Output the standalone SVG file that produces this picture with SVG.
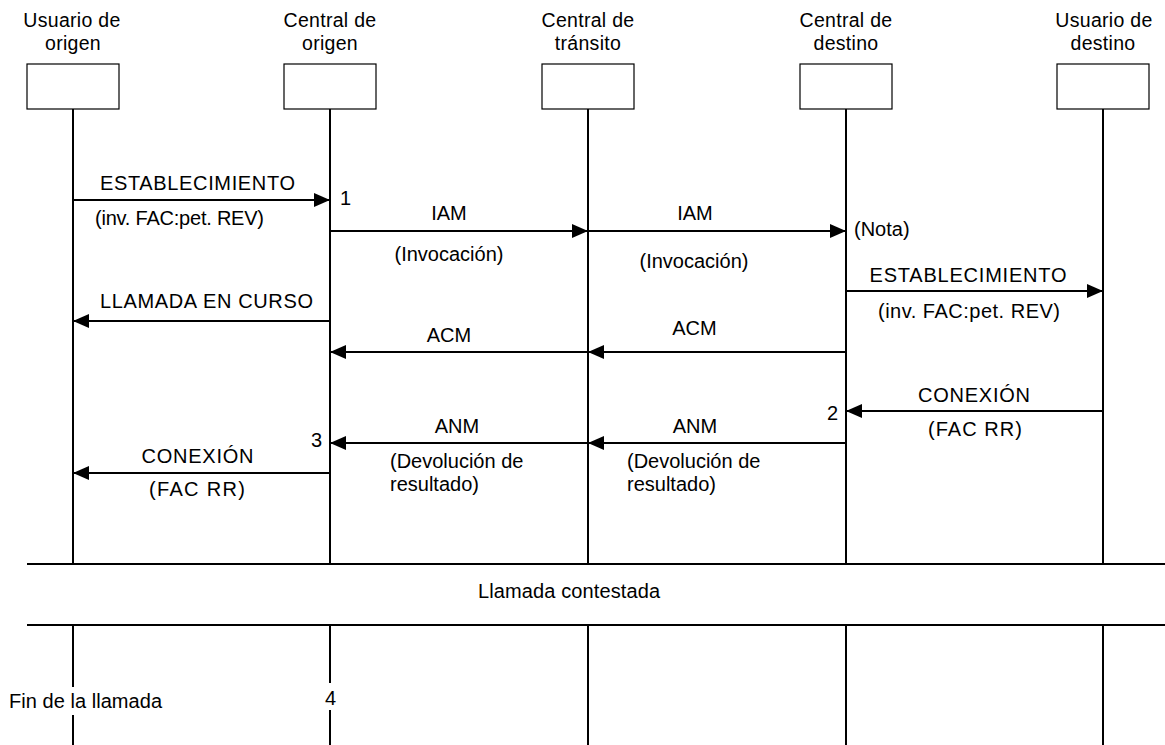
<svg xmlns="http://www.w3.org/2000/svg" width="1165" height="745" viewBox="0 0 1165 745">
<style>
text{font-family:"Liberation Sans",Arial,sans-serif;font-size:20px;fill:#000}
.m{text-anchor:middle}
.h{font-size:19.5px;letter-spacing:0.3px}
.box{fill:#fff;stroke:#000;stroke-width:1.2}
.life{stroke:#000;stroke-width:2;fill:none}
.sep{stroke:#000;stroke-width:2.2;fill:none}
.msg{stroke:#000;stroke-width:2;fill:none;marker-end:url(#ah)}
</style>
<defs>
<marker id="ah" markerUnits="userSpaceOnUse" markerWidth="16" markerHeight="14" refX="16" refY="7" orient="auto">
<path d="M0,0 L16,7 L0,14 z" fill="#000"/>
</marker>
</defs>
<rect width="1165" height="745" fill="#fff"/>

<g id="usuario-origen">
<text class="m h" x="72" y="27">Usuario de</text>
<text class="m h" x="73" y="49.5">origen</text>
<rect class="box" x="27" y="64" width="92" height="45"/>
<path class="life" d="M73,109 V564 M73,625 V687 M73,715 V745"/>
</g>
<g id="central-origen">
<text class="m h" x="330" y="27">Central de</text>
<text class="m h" x="330" y="49.5">origen</text>
<rect class="box" x="284" y="64" width="92" height="45"/>
<path class="life" d="M330,109 V564 M330,625 V683 M330,710 V745"/>
</g>
<g id="central-transito">
<text class="m h" x="588" y="27">Central de</text>
<text class="m h" x="588" y="49.5">tránsito</text>
<rect class="box" x="542" y="64" width="92" height="45"/>
<path class="life" d="M588,109 V564 M588,625 V745"/>
</g>
<g id="central-destino">
<text class="m h" x="846" y="27">Central de</text>
<text class="m h" x="846" y="49.5">destino</text>
<rect class="box" x="800" y="64" width="92" height="45"/>
<path class="life" d="M846,109 V564 M846,625 V745"/>
</g>
<g id="usuario-destino">
<text class="m h" x="1104" y="27">Usuario de</text>
<text class="m h" x="1103" y="49.5">destino</text>
<rect class="box" x="1057" y="64" width="92" height="45"/>
<path class="life" d="M1103,109 V564 M1103,625 V745"/>
</g>

<g id="connectors">
<line class="msg" x1="73" y1="200" x2="330" y2="200"/>
<line class="msg" x1="330" y1="231" x2="588" y2="231"/>
<line class="msg" x1="588" y1="231" x2="846" y2="231"/>
<line class="msg" x1="846" y1="291" x2="1103" y2="291"/>
<line class="msg" x1="330" y1="321" x2="73" y2="321"/>
<line class="msg" x1="588" y1="352" x2="330" y2="352"/>
<line class="msg" x1="846" y1="352" x2="588" y2="352"/>
<line class="msg" x1="1103" y1="411" x2="846" y2="411"/>
<line class="msg" x1="588" y1="443" x2="330" y2="443"/>
<line class="msg" x1="846" y1="443" x2="588" y2="443"/>
<line class="msg" x1="330" y1="473" x2="73" y2="473"/>
</g>

<g id="labels">
<text class="m" x="197.5" y="190" textLength="195" lengthAdjust="spacing">ESTABLECIMIENTO</text>
<text x="95" y="225" textLength="169" lengthAdjust="spacing">(inv. FAC:pet. REV)</text>
<text x="340" y="205">1</text>
<text class="m" x="449" y="220">IAM</text>
<text class="m" x="449" y="261">(Invocación)</text>
<text class="m" x="695" y="220">IAM</text>
<text class="m" x="694" y="268">(Invocación)</text>
<text x="854" y="236">(Nota)</text>
<text class="m" x="968" y="282" textLength="197" lengthAdjust="spacing">ESTABLECIMIENTO</text>
<text class="m" x="969" y="318" textLength="182" lengthAdjust="spacing">(inv. FAC:pet. REV)</text>
<text class="m" x="206.5" y="308" textLength="213" lengthAdjust="spacing">LLAMADA EN CURSO</text>
<text class="m" x="449" y="342">ACM</text>
<text class="m" x="694.5" y="335">ACM</text>
<text class="m" x="974" y="402" textLength="112" lengthAdjust="spacing">CONEXIÓN</text>
<text class="m" x="975" y="436" textLength="94" lengthAdjust="spacing">(FAC RR)</text>
<text x="827" y="420">2</text>
<text class="m" x="457" y="433">ANM</text>
<text class="m" x="695" y="433">ANM</text>
<text x="390" y="468">(Devolución de</text>
<text x="390" y="491">resultado)</text>
<text x="627" y="468">(Devolución de</text>
<text x="627" y="491">resultado)</text>
<text x="311" y="447">3</text>
<text class="m" x="197.5" y="463" textLength="112" lengthAdjust="spacing">CONEXIÓN</text>
<text class="m" x="197" y="496" textLength="96" lengthAdjust="spacing">(FAC RR)</text>
</g>

<g id="phase">
<path class="sep" d="M27,564 H1165 M27,625 H1165"/>
<text x="478" y="598" textLength="182" lengthAdjust="spacing">Llamada contestada</text>
<text x="9" y="708" textLength="153" lengthAdjust="spacing">Fin de la llamada</text>
<text x="325" y="705">4</text>
</g>
</svg>
